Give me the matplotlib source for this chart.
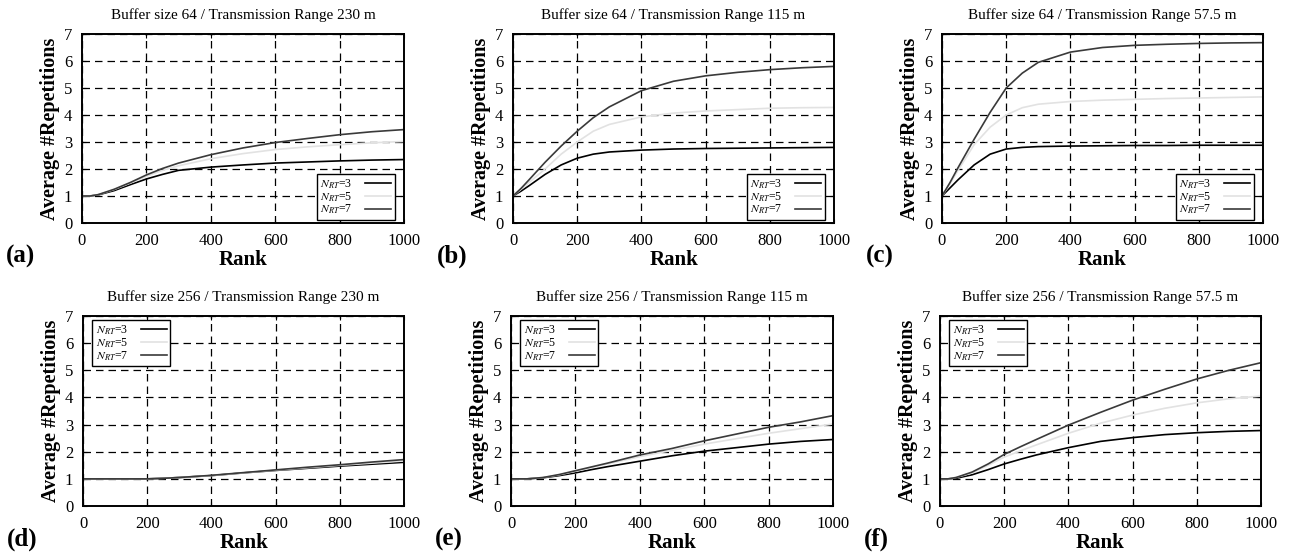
import numpy as np
import matplotlib
matplotlib.use('Agg')
import matplotlib.pyplot as plt

plt.rcParams['font.family'] = ['Liberation Serif', 'DejaVu Serif']
plt.rcParams['mathtext.fontset'] = 'stix'

W, H = 1291, 556

ranks = [0, 25, 50, 100, 150, 200, 250, 300, 400, 500, 600, 700, 800, 900, 1000]

# (a) buffer 64 / 230 m
a_nrt3 = [1, 1, 1.04, 1.2, 1.42, 1.63, 1.8, 1.95, 2.07, 2.15, 2.22, 2.26, 2.3, 2.33, 2.35]
a_nrt5 = [1, 1, 1.05, 1.24, 1.48, 1.73, 1.95, 2.12, 2.38, 2.57, 2.72, 2.82, 2.9, 2.97, 3.02]
a_nrt7 = [1, 1, 1.05, 1.25, 1.5, 1.78, 2.02, 2.22, 2.53, 2.78, 2.98, 3.13, 3.27, 3.38, 3.46]
# (b) buffer 64 / 115 m
b_nrt3 = [1, 1.18, 1.38, 1.8, 2.15, 2.4, 2.55, 2.63, 2.7, 2.74, 2.76, 2.77, 2.78, 2.79, 2.8]
b_nrt5 = [1, 1.25, 1.5, 2.0, 2.55, 3.0, 3.4, 3.65, 3.93, 4.07, 4.15, 4.2, 4.25, 4.27, 4.28]
b_nrt7 = [1, 1.28, 1.6, 2.25, 2.85, 3.4, 3.9, 4.3, 4.9, 5.25, 5.45, 5.58, 5.68, 5.75, 5.8]
# (c) buffer 64 / 57.5 m
c_nrt3 = [1, 1.3, 1.6, 2.15, 2.55, 2.74, 2.8, 2.83, 2.85, 2.86, 2.87, 2.87, 2.88, 2.88, 2.88]
c_nrt5 = [1, 1.45, 1.95, 2.9, 3.55, 4.0, 4.27, 4.4, 4.5, 4.55, 4.58, 4.61, 4.63, 4.65, 4.67]
c_nrt7 = [1, 1.5, 2.05, 3.1, 4.1, 5.0, 5.55, 5.95, 6.33, 6.5, 6.58, 6.62, 6.65, 6.67, 6.68]
# (d) buffer 256 / 230 m
d_nrt3 = [1, 1, 1, 1, 1, 1, 1.02, 1.05, 1.12, 1.22, 1.31, 1.39, 1.47, 1.54, 1.61]
d_nrt5 = [1, 1, 1, 1, 1, 1, 1.02, 1.05, 1.12, 1.22, 1.32, 1.41, 1.5, 1.58, 1.66]
d_nrt7 = [1, 1, 1, 1, 1, 1, 1.02, 1.05, 1.13, 1.23, 1.33, 1.43, 1.52, 1.62, 1.71]
# (e) buffer 256 / 115 m
e_nrt3 = [1, 1, 1, 1.04, 1.12, 1.22, 1.34, 1.45, 1.65, 1.85, 2.02, 2.15, 2.28, 2.38, 2.45]
e_nrt5 = [1, 1, 1, 1.05, 1.15, 1.28, 1.42, 1.55, 1.82, 2.05, 2.28, 2.48, 2.68, 2.85, 3.02]
e_nrt7 = [1, 1, 1, 1.05, 1.16, 1.3, 1.44, 1.58, 1.88, 2.12, 2.4, 2.65, 2.9, 3.1, 3.33]
# (f) buffer 256 / 57.5 m
f_nrt3 = [1, 1, 1.02, 1.15, 1.34, 1.55, 1.72, 1.88, 2.15, 2.38, 2.52, 2.63, 2.7, 2.75, 2.78]
f_nrt5 = [1, 1, 1.05, 1.22, 1.5, 1.8, 2.03, 2.25, 2.68, 3.05, 3.35, 3.6, 3.8, 3.95, 4.05]
f_nrt7 = [1, 1, 1.05, 1.25, 1.55, 1.9, 2.18, 2.45, 2.98, 3.45, 3.9, 4.3, 4.68, 5.0, 5.28]

titles = ['Buffer size 64 / Transmission Range 230 m',
          'Buffer size 64 / Transmission Range 115 m',
          'Buffer size 64 / Transmission Range 57.5 m',
          'Buffer size 256 / Transmission Range 230 m',
          'Buffer size 256 / Transmission Range 115 m',
          'Buffer size 256 / Transmission Range 57.5 m']
panel_tags = ['(a)', '(b)', '(c)', '(d)', '(e)', '(f)']
series = [(a_nrt3, a_nrt5, a_nrt7), (b_nrt3, b_nrt5, b_nrt7), (c_nrt3, c_nrt5, c_nrt7),
          (d_nrt3, d_nrt5, d_nrt7), (e_nrt3, e_nrt5, e_nrt7), (f_nrt3, f_nrt5, f_nrt7)]
nrt_labels = [r'$N_{RT}$=3', r'$N_{RT}$=5', r'$N_{RT}$=7']
nrt_colors = ['#000000', '#e2e2e2', '#3a3a3a']

# 패널 위치 (픽셀: left, right, top, bottom)
boxes = [(82, 404, 34, 223), (513, 834, 34, 223), (942, 1263, 34, 223),
         (83, 404, 316, 506), (511, 833, 316, 506), (940, 1261, 316, 506)]

fig = plt.figure(figsize=(W / 100, H / 100), dpi=100)

for i, (l, r, t, b) in enumerate(boxes):
    ax = fig.add_axes([l / W, 1 - b / H, (r - l) / W, (b - t) / H])
    for ys, lab, col in zip(series[i], nrt_labels, nrt_colors):
        ax.plot(ranks, ys, color=col, lw=1.2, label=lab)
    ax.set_xlim(0, 1000)
    ax.set_ylim(0, 7)
    ax.set_xticks(range(0, 1001, 200))
    ax.set_yticks(range(0, 8))
    ax.grid(True, color='black', ls=(0, (6, 4)), lw=0.9)
    ax.tick_params(direction='in', length=3, labelsize=12, top=True, right=True, pad=7)
    for sp in ax.spines.values():
        sp.set_linewidth(1.4)
    ax.set_title(titles[i], fontsize=11, pad=11)
    ax.set_xlabel('Rank', fontsize=15, fontweight='bold', labelpad=1)
    ax.set_ylabel('Average #Repetitions', fontsize=14.5, fontweight='bold', labelpad=3)

    if i < 3:
        loc, anchor = 'lower right', (0.972, 0.016)
    else:
        loc, anchor = 'upper left', (0.028, 0.979)
    leg = ax.legend(loc=loc, bbox_to_anchor=anchor, borderaxespad=0,
                    fontsize=8.5, markerfirst=False, handlelength=2.2,
                    fancybox=False, framealpha=1, edgecolor='black',
                    borderpad=0.3, labelspacing=-0.05, handletextpad=1.1)
    leg.get_frame().set_linewidth(1.0)

    fig.text(6 / W + (l - 82) / W, 1 - (b + 33) / H, panel_tags[i],
             fontsize=18, fontweight='bold', va='center', ha='left')

fig.savefig('out.png', dpi=100)
